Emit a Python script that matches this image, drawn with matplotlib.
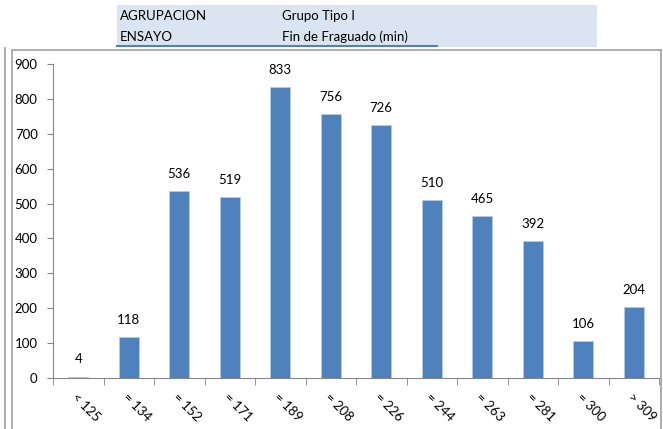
import matplotlib.pyplot as plt
import numpy as np
from matplotlib.patches import Rectangle

plt.rcParams['font.family'] = ['Lato', 'DejaVu Sans']

categorias = ['< 125', '= 134', '= 152', '= 171', '= 189', '= 208',
              '= 226', '= 244', '= 263', '= 281', '= 300', '> 309']
valores = [4, 118, 536, 519, 833, 756, 726, 510, 465, 392, 106, 204]

fig = plt.figure(figsize=(6.63, 4.29), dpi=100)
W, H = 663.0, 429.0

# cabecera
fig.patches.append(Rectangle((117 / W, 1 - 47 / H), 480 / W, 42 / H,
                             transform=fig.transFigure, facecolor='#dbe5f1',
                             edgecolor='none', zorder=0))
fig.lines.append(plt.Line2D([117 / W, 437 / W], [1 - 46 / H, 1 - 46 / H],
                            transform=fig.transFigure, color='#4f81bd', lw=1.5))
fig.text(120 / W, 1 - 16 / H, 'AGRUPACION', fontsize=9.5, va='center')
fig.text(120 / W, 1 - 37 / H, 'ENSAYO', fontsize=9.5, va='center')
fig.text(282 / W, 1 - 16 / H, 'Grupo Tipo I', fontsize=9.5, va='center')
fig.text(282 / W, 1 - 37 / H, 'Fin de Fraguado (min)', fontsize=9.5, va='center')

# marcos del grafico
fig.patches.append(Rectangle((12 / W, -0.01), 649 / W, 1 - 50 / H + 0.01,
                             transform=fig.transFigure, facecolor='none',
                             edgecolor='#a0a0a0', lw=1.2))
fig.lines.append(plt.Line2D([5 / W, 5 / W], [0, 1 - 48 / H],
                            transform=fig.transFigure, color='#a0a0a0', lw=1.2))

ax = fig.add_axes([53 / W, 1 - 378 / H, 606 / W, 314 / H])
x = np.arange(len(categorias))
barras = ax.bar(x, valores, width=0.4, color='#4f81bd', edgecolor='#b9cde5', lw=0.5)
for xi, v in zip(x, valores):
    ax.annotate(str(v), (xi, v), xytext=(0, 8), textcoords='offset points',
                ha='center', va='bottom', fontsize=9.5)

ax.set_xlim(-0.5, len(categorias) - 0.5)
ax.set_ylim(0, 900)
ax.set_yticks(range(0, 901, 100))
ax.set_xticks(x)
ax.set_xticklabels(categorias, rotation=-45, ha='left', va='top',
                   rotation_mode='anchor', fontsize=9.5)
ax.set_xticks(np.arange(-0.5, len(categorias)), minor=True)
ax.tick_params(axis='x', which='major', length=0, pad=9)
ax.tick_params(axis='x', which='minor', length=5, color='#868686', direction='out')
ax.tick_params(axis='y', length=4, color='#868686', labelsize=9.5, pad=7)
for s in ['top', 'right']:
    ax.spines[s].set_visible(False)
ax.spines['left'].set_color('#868686')
ax.spines['bottom'].set_color('#868686')

plt.savefig('out.png', dpi=100)
